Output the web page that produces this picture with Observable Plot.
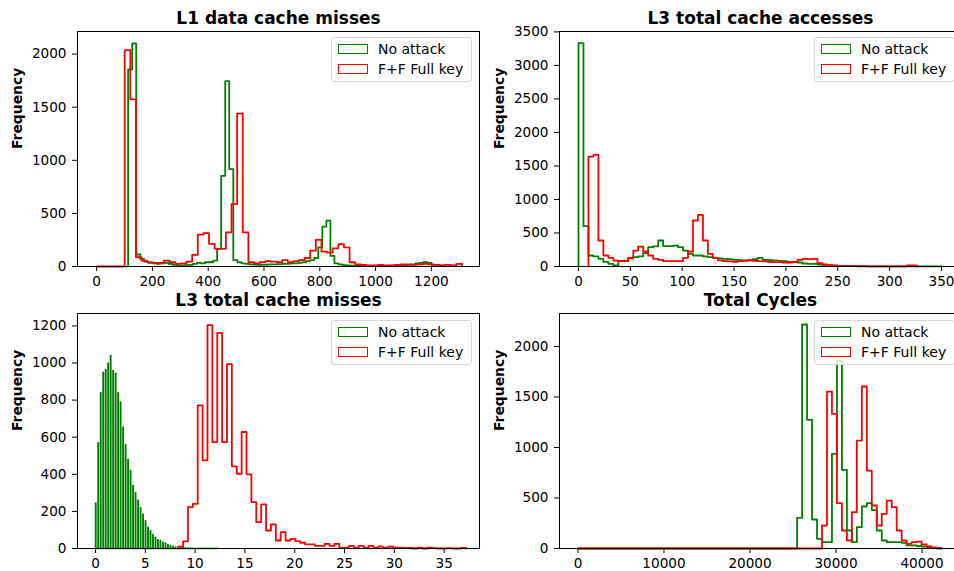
<!DOCTYPE html>
<html><head><meta charset="utf-8">
<script src="https://cdn.jsdelivr.net/npm/d3@7"></script>
<script src="https://cdn.jsdelivr.net/npm/@observablehq/plot@0.6"></script>
<style>
html,body{margin:0;padding:0;background:#fff;}
#fig{position:relative;width:954px;height:571px;overflow:hidden;font-family:"DejaVu Sans",sans-serif;}
.panel{position:absolute;}
.panel svg{max-width:none !important;}
.legend{position:absolute;box-sizing:border-box;width:141px;height:45px;border:1px solid #d6d6d6;border-radius:3px;background:rgba(255,255,255,0.8);}
.patch{position:absolute;box-sizing:border-box;left:6px;width:30px;height:10px;border-width:1.8px;border-style:solid;}
.ltext{position:absolute;left:46px;font-size:14px;line-height:14px;white-space:nowrap;color:#000;}
</style></head><body><div id="fig"></div>
<script>
// ---------------- data ----------------
const seriesNames = ["No attack", "F+F Full key"];
const seriesColors = ["green", "red"];

// Panel 1: L1 data cache misses (histogram bins: start, width, counts)
const l1NoAttackStart = 113, l1NoAttackWidth = 14.5;
const l1NoAttack = [1856, 2100, 113, 70, 45, 35, 30, 25, 30, 35,
  25, 15, 10, 10, 12, 15, 25, 35, 30, 40,
  40, 56, 166, 854, 1746, 917, 60, 40, 30, 25,
  20, 18, 15, 15, 18, 20, 20, 22, 25, 25,
  30, 30, 35, 40, 50, 60, 80, 180, 375, 432,
  100, 30, 20, 12, 10, 8, 8, 6, 6, 5,
  5, 5, 6, 6, 8, 8, 10, 10, 12, 15,
  20, 30, 35, 40, 35, 15, 10, 5];
const l1FullKeyStart = 0, l1FullKeyWidth = 20.15;
const l1FullKey = [0, 0, 0, 0, 0, 2037, 1574, 87, 56, 40,
  35, 35, 56, 40, 25, 30, 45, 110, 300, 314,
  213, 166, 166, 322, 588, 1440, 322, 40, 30, 40,
  50, 45, 40, 60, 40, 50, 60, 80, 150, 250,
  140, 130, 170, 210, 180, 40, 20, 15, 10, 10,
  15, 10, 10, 15, 20, 20, 15, 20, 25, 20,
  15, 10, 15, 10, 25];

// Panel 2: L3 total cache accesses
const l3AccNoAttackStart = 0, l3AccNoAttackWidth = 4.8;
const l3AccNoAttack = [3333, 601, 164, 150, 114, 70, 40, 15, 80, 89,
  120, 139, 150, 200, 288, 300, 388, 303, 303, 310,
  288, 238, 189, 164, 164, 150, 139, 129, 120, 114,
  110, 100, 95, 90, 95, 110, 129, 100, 95, 90,
  85, 80, 70, 65, 60, 45, 40, 40, 30, 25,
  15, 12, 10, 8, 5, 5, 4, 4, 3, 3,
  3, 2, 2, 2, 2, 2, 1, 1, 1, 1,
  1, 1, 1];
const l3AccFullKeyStart = 9.6, l3AccFullKeyWidth = 4.8;
const l3AccFullKey = [1640, 1664, 388, 164, 129, 89, 80, 80, 129, 238,
  298, 224, 164, 114, 100, 80, 80, 80, 80, 129,
  224, 686, 770, 388, 189, 129, 90, 80, 75, 70,
  80, 85, 90, 85, 80, 75, 70, 65, 65, 60,
  60, 70, 100, 114, 110, 114, 50, 30, 20, 15,
  10, 8, 8, 6, 5, 5, 3, 2, 2, 2,
  2, 2, 2, 3, 15, 15];

// Panel 3: L3 total cache misses
// "No attack" takes values on a 0.25 grid; each value fills one narrow bin
const l3MissNoAttackStart = 0, l3MissNoAttackStep = 0.25, l3MissNoAttackBin = 0.04;
const l3MissNoAttack = [245, 570, 840, 950, 965, 1000, 1040, 960, 945, 840,
  790, 655, 560, 480, 420, 340, 300, 260, 220, 185,
  150, 115, 97, 76, 61, 47, 43, 34, 29, 22,
  16, 12, 8, 7, 5, 4, 4, 3, 3, 2,
  2, 2, 1, 1, 1, 1, 1, 1, 1, 1];
const l3MissFullKeyStart = 8.3, l3MissFullKeyWidth = 0.49;
const l3MissFullKey = [10, 38, 223, 241, 772, 475, 1204, 574, 1163, 574,
  994, 443, 403, 628, 400, 250, 142, 238, 97, 130,
  43, 88, 43, 52, 40, 31, 22, 22, 14, 14,
  25, 14, 25, 5, 5, 14, 5, 14, 5, 14,
  5, 10, 5, 10, 5, 5, 3, 3, 0, 5,
  0, 5, 2, 0, 0, 2, 0, 0, 3];

// Panel 4: Total Cycles
const cyclesStart = 0, cyclesWidth = 579;
const cyclesNoAttack = [0, 0, 0, 0, 0, 0, 0, 0, 0, 0,
  0, 0, 0, 0, 0, 0, 0, 0, 0, 0,
  0, 0, 0, 0, 0, 0, 0, 0, 0, 0,
  0, 0, 0, 0, 0, 0, 0, 0, 0, 0,
  0, 0, 0, 0, 304, 2218, 1274, 287, 96, 63,
  63, 937, 1855, 779, 178, 63, 211, 416, 449, 380,
  178, 79, 63, 63, 63, 56, 30, 30, 25, 20,
  10, 5, 0];
const cyclesFullKey = [0, 0, 0, 0, 0, 0, 0, 0, 0, 0,
  0, 0, 0, 0, 0, 0, 0, 0, 0, 0,
  0, 0, 0, 0, 0, 0, 0, 0, 0, 0,
  0, 0, 0, 0, 0, 0, 0, 0, 0, 0,
  0, 0, 0, 0, 0, 0, 0, 0, 0, 228,
  1554, 1333, 449, 178, 79, 360, 1069, 1604, 772, 426,
  228, 343, 475, 409, 178, 79, 46, 63, 69, 40,
  20, 10, 5];

// axis ticks
const l1XTicks = [0, 200, 400, 600, 800, 1000, 1200];
const l1YTicks = [0, 500, 1000, 1500, 2000];
const l3AccXTicks = [0, 50, 100, 150, 200, 250, 300, 350];
const l3AccYTicks = [0, 500, 1000, 1500, 2000, 2500, 3000, 3500];
const l3MissXTicks = [0, 5, 10, 15, 20, 25, 30, 35];
const l3MissYTicks = [0, 200, 400, 600, 800, 1000, 1200];
const cyclesXTicks = [0, 10000, 20000, 30000, 40000];
const cyclesYTicks = [0, 500, 1000, 1500, 2000];

// ---------------- helpers ----------------
function stepPoints(start, step, counts, binWidth) {
  const bw = binWidth ?? step;
  const pts = [{x: start, y: 0}];
  counts.forEach((c, i) => {
    const x0 = start + i * step;
    pts.push({x: x0, y: c});
    if (bw !== step) pts.push({x: x0 + bw, y: 0});
  });
  pts.push({x: start + (counts.length - 1) * step + bw, y: 0});
  return pts;
}

function panel(cfg) {
  const svg = Plot.plot({
    width: cfg.width, height: cfg.height,
    marginLeft: cfg.mL, marginRight: cfg.mR, marginTop: cfg.mT, marginBottom: cfg.mB,
    style: {fontFamily: "DejaVu Sans, sans-serif", fontSize: "13.6px", color: "black", background: "transparent", overflow: "visible", maxWidth: "none"},
    x: {domain: cfg.xDomain, ticks: cfg.xTicks, tickFormat: d3.format("d"), label: null, tickSize: 5, tickPadding: 5},
    y: {domain: cfg.yDomain, ticks: cfg.yTicks, tickFormat: d3.format("d"), label: null, tickSize: 5, tickPadding: 6},
    marks: [
      ...cfg.series.map((pts, i) => Plot.line(pts, {x: "x", y: "y", curve: "step-after", stroke: seriesColors[i], strokeWidth: (cfg.widths || [1.8, 1.8])[i]})),
      Plot.frame({stroke: "black", strokeWidth: 1}),
      Plot.text([cfg.title], {text: d => d, frameAnchor: "top", dy: -7.5, lineAnchor: "bottom", fontSize: 17, fontWeight: "bold", fill: "black"}),
      Plot.text(["Frequency"], {text: d => d, frameAnchor: "left", dx: -60, rotate: -90, fontSize: 13.9, fontWeight: "bold", fill: "black"})
    ]
  });
  svg.setAttribute("width", cfg.width);
  svg.setAttribute("height", cfg.height);
  return svg;
}

function place(node, left, top, w, h) {
  const d = document.createElement("div");
  d.className = "panel";
  d.style.left = left + "px"; d.style.top = top + "px";
  d.style.width = w + "px"; d.style.height = h + "px";
  d.appendChild(node);
  document.getElementById("fig").appendChild(d);
}

function legend(left, top) {
  const box = document.createElement("div");
  box.className = "legend";
  box.style.left = left + "px"; box.style.top = top + "px";
  seriesNames.forEach((name, i) => {
    const p = document.createElement("div");
    p.className = "patch";
    p.style.top = (6 + i * 20) + "px";
    p.style.borderColor = seriesColors[i];
    box.appendChild(p);
    const t = document.createElement("div");
    t.className = "ltext";
    t.style.top = (4 + i * 20) + "px";
    t.textContent = name;
    box.appendChild(t);
  });
  document.getElementById("fig").appendChild(box);
}

// ---------------- panels ----------------
place(panel({
  title: "L1 data cache misses", width: 480, height: 290, mL: 77, mR: 1, mT: 31, mB: 24,
  xDomain: [-68.5, 1372.5], xTicks: l1XTicks, yDomain: [0, 2213], yTicks: l1YTicks,
  series: [stepPoints(l1NoAttackStart, l1NoAttackWidth, l1NoAttack), stepPoints(l1FullKeyStart, l1FullKeyWidth, l1FullKey)]
}), 0, 0, 480, 290);
legend(331, 37);

place(panel({
  title: "L3 total cache accesses", width: 482, height: 290, mL: 79, mR: 1, mT: 31, mB: 24,
  xDomain: [-18.3, 369.3], xTicks: l3AccXTicks, yDomain: [0, 3506], yTicks: l3AccYTicks,
  series: [stepPoints(l3AccNoAttackStart, l3AccNoAttackWidth, l3AccNoAttack), stepPoints(l3AccFullKeyStart, l3AccFullKeyWidth, l3AccFullKey)]
}), 480, 0, 482, 290);
legend(814, 37);

place(panel({
  title: "L3 total cache misses", width: 480, height: 281, mL: 77, mR: 1, mT: 23, mB: 23,
  xDomain: [-1.81, 38.55], xTicks: l3MissXTicks, yDomain: [0, 1267], yTicks: l3MissYTicks,
  widths: [1.5, 1.8],
  series: [stepPoints(l3MissNoAttackStart, l3MissNoAttackStep, l3MissNoAttack, l3MissNoAttackBin), stepPoints(l3MissFullKeyStart, l3MissFullKeyWidth, l3MissFullKey)]
}), 0, 290, 480, 281);
legend(331, 320);

place(panel({
  title: "Total Cycles", width: 482, height: 281, mL: 79, mR: 1, mT: 23, mB: 23,
  xDomain: [-2150, 44590], xTicks: cyclesXTicks, yDomain: [0, 2327], yTicks: cyclesYTicks,
  series: [stepPoints(cyclesStart, cyclesWidth, cyclesNoAttack), stepPoints(cyclesStart, cyclesWidth, cyclesFullKey)]
}), 480, 290, 482, 281);
legend(814, 320);
</script></body></html>
